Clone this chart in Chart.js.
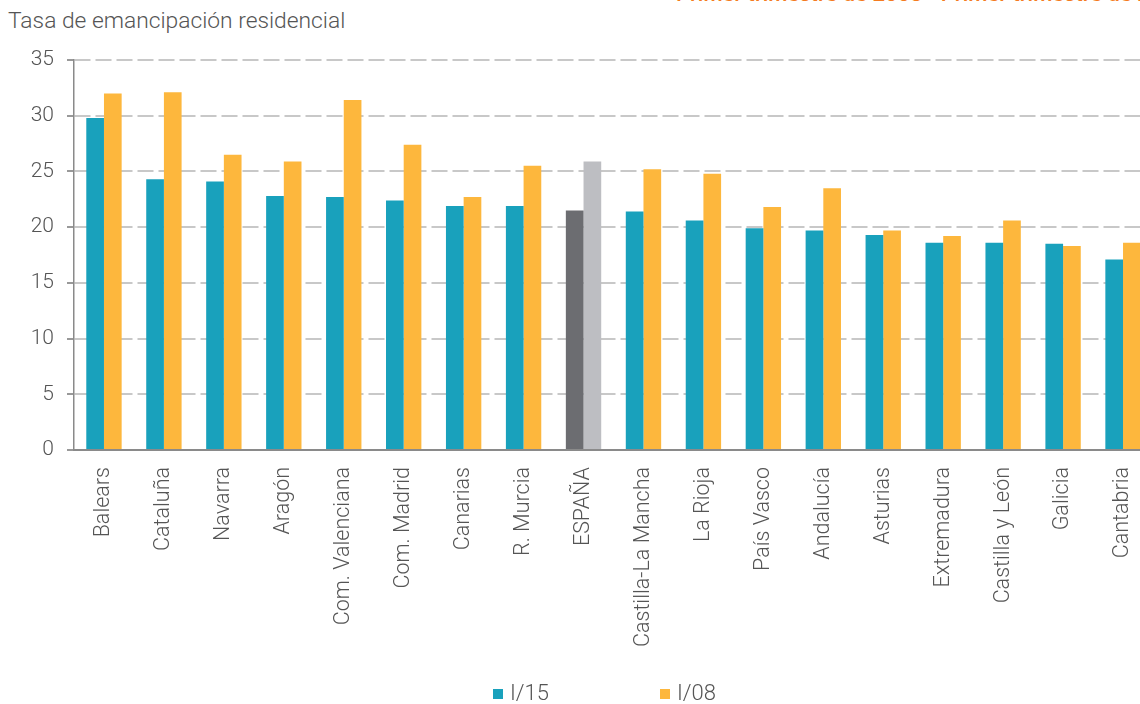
<!DOCTYPE html>
<html lang="es">
<head>
<meta charset="utf-8">
<script src="https://cdn.jsdelivr.net/npm/chart.js@4/dist/chart.umd.min.js"></script>
<style>
  html, body { margin: 0; padding: 0; background: #fff; overflow: hidden; width: 1140px; height: 704px; }
  body { position: relative; font-family: Roboto, 'Open Sans', sans-serif; }
  #wrap { position: absolute; left: 0; top: 0; width: 1160px; height: 704px; }
  #header { position: absolute; left: 676px; top: -17px; font-size: 22px; line-height: 22px; color: #f47b20; white-space: nowrap; font-weight: 500; }
  #title { position: absolute; left: 8px; top: 8px; font-size: 22.8px; line-height: 26px; color: #555; white-space: nowrap; font-weight: 300; }
  #legend { position: absolute; top: 680px; left: 0; width: 1140px; height: 26px; }
  .item { position: absolute; top: 0; font-size: 22px; line-height: 26px; color: #555; white-space: nowrap; font-weight: 300; }
  .item i { display: inline-block; width: 10px; height: 10px; margin-right: 7px; vertical-align: 1px; }
</style>
</head>
<body>
<div id="header">Primer trimestre de 2008 - Primer trimestre de 2015</div>
<div id="title">Tasa de emancipación residencial</div>
<div id="wrap"><canvas id="chart"></canvas></div>
<div id="legend"></div>
<script>
// Tasa de emancipación residencial por comunidad autónoma
const categories = ['Balears', 'Cataluña', 'Navarra', 'Aragón', 'Com. Valenciana', 'Com. Madrid',
  'Canarias', 'R. Murcia', 'ESPAÑA', 'Castilla-La Mancha', 'La Rioja', 'País Vasco', 'Andalucía',
  'Asturias', 'Extremadura', 'Castilla y León', 'Galicia', 'Cantabria'];
const serieI15 = [29.8, 24.3, 24.1, 22.8, 22.7, 22.4, 21.9, 21.9, 21.5, 21.4, 20.6, 19.9, 19.7, 19.3, 18.6, 18.6, 18.5, 17.1];
const serieI08 = [32.0, 32.1, 26.5, 25.9, 31.4, 27.4, 22.7, 25.5, 25.9, 25.2, 24.8, 21.8, 23.5, 19.7, 19.2, 20.6, 18.3, 18.6];
const seriesLabels = ['I/15', 'I/08'];
const yMin = 0, yMax = 35, yStep = 5;

const teal = '#19a1bc';
const orange = '#fdb73d';
const spainDark = '#6c6d71';
const spainLight = '#bdbec2';

// ESPAÑA se pinta en grises
const colorsFor = (base, spain) => categories.map(c => c === 'ESPAÑA' ? spain : base);

const chart = new Chart(document.getElementById('chart'), {
  type: 'bar',
  data: {
    labels: categories,
    datasets: [
      { label: seriesLabels[0], data: serieI15, backgroundColor: colorsFor(teal, spainDark), legendColor: teal },
      { label: seriesLabels[1], data: serieI08, backgroundColor: colorsFor(orange, spainLight), legendColor: orange }
    ]
  },
  options: {
    responsive: true,
    maintainAspectRatio: false,
    animation: false,
    categoryPercentage: 0.59,
    barPercentage: 1,
    layout: { padding: { top: 60, right: 7, left: 0, bottom: 0 } },
    plugins: { legend: { display: false }, title: { display: false }, tooltip: { enabled: false } },
    scales: {
      x: {
        grid: { display: false },
        border: { display: true, color: '#8a8a8a', width: 2 },
        ticks: {
          maxRotation: 90, minRotation: 90, autoSkip: false, padding: 9,
          color: '#555', font: { family: 'Roboto', size: 21.5, weight: 300 }
        },
        afterFit: s => { s.height = 254; }
      },
      y: {
        min: yMin, max: yMax,
        grid: { color: '#c8c8c8', lineWidth: 2, tickColor: '#777', tickLength: 7, tickWidth: 1.5, tickBorderDash: [] },
        border: { display: true, color: '#8a8a8a', width: 1.5, dash: [16, 5] },
        ticks: { stepSize: yStep, padding: 13, color: '#555', font: { family: 'Roboto', size: 21, weight: 300 } },
        afterFit: s => { s.width = 74; }
      }
    }
  }
});

// leyenda en HTML a partir de los datasets
const legendPos = [493, 660];
const legend = document.getElementById('legend');
chart.data.datasets.forEach((ds, i) => {
  const el = document.createElement('div');
  el.className = 'item';
  el.style.left = legendPos[i] + 'px';
  el.innerHTML = `<i style="background:${ds.legendColor}"></i>${ds.label}`;
  legend.appendChild(el);
});
</script>
</body>
</html>
